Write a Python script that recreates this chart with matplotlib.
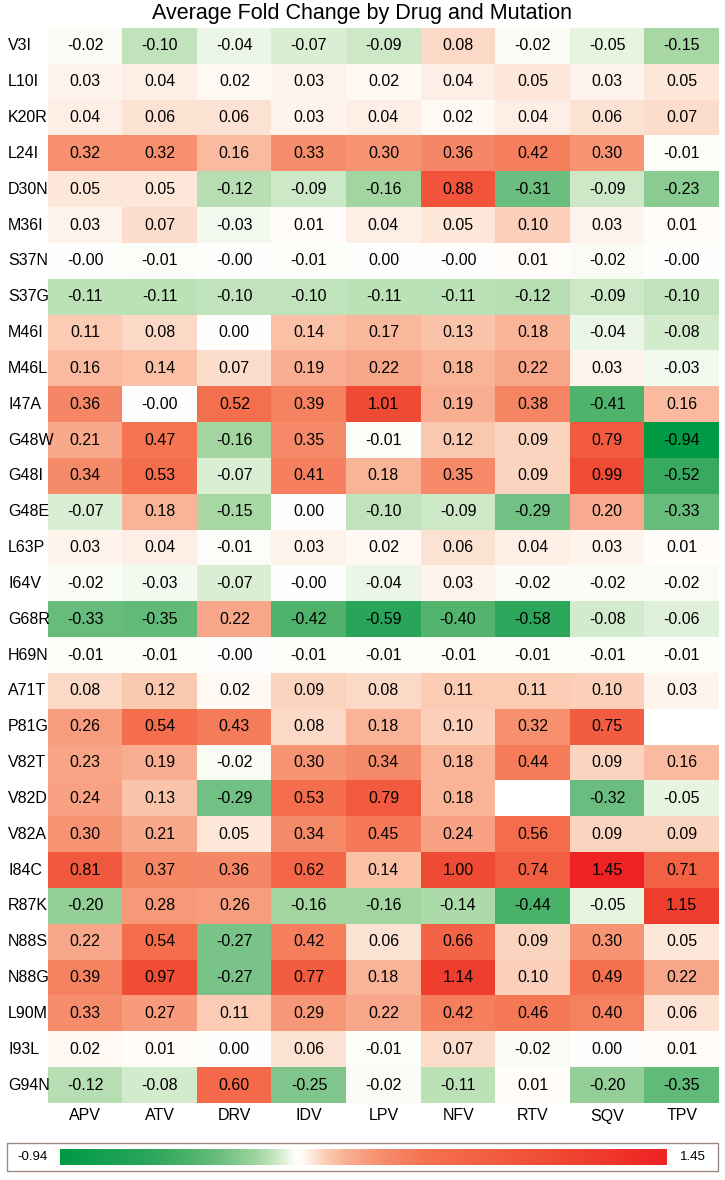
"""Average fold change heatmap (drug x mutation)."""
import matplotlib
matplotlib.use("Agg")
import matplotlib.pyplot as plt
import numpy as np
from matplotlib.colors import LinearSegmentedColormap, Normalize
from matplotlib.patches import Rectangle

plt.rcParams["font.family"] = ["Liberation Sans", "DejaVu Sans"]

drugs = ["APV", "ATV", "DRV", "IDV", "LPV", "NFV", "RTV", "SQV", "TPV"]
mutations = [
    "V3I", "L10I", "K20R", "L24I", "D30N", "M36I", "S37N", "S37G", "M46I", "M46L",
    "I47A", "G48W", "G48I", "G48E", "L63P", "I64V", "G68R", "H69N", "A71T", "P81G",
    "V82T", "V82D", "V82A", "I84C", "R87K", "N88S", "N88G", "L90M", "I93L", "G94N",
]
nan = np.nan
fold_change = [
    [-0.02, -0.10, -0.04, -0.07, -0.09, 0.08, -0.02, -0.05, -0.15],
    [0.03, 0.04, 0.02, 0.03, 0.02, 0.04, 0.05, 0.03, 0.05],
    [0.04, 0.06, 0.06, 0.03, 0.04, 0.02, 0.04, 0.06, 0.07],
    [0.32, 0.32, 0.16, 0.33, 0.30, 0.36, 0.42, 0.30, -0.01],
    [0.05, 0.05, -0.12, -0.09, -0.16, 0.88, -0.31, -0.09, -0.23],
    [0.03, 0.07, -0.03, 0.01, 0.04, 0.05, 0.10, 0.03, 0.01],
    [-0.0, -0.01, -0.0, -0.01, 0.00, -0.0, 0.01, -0.02, -0.0],
    [-0.11, -0.11, -0.10, -0.10, -0.11, -0.11, -0.12, -0.09, -0.10],
    [0.11, 0.08, 0.00, 0.14, 0.17, 0.13, 0.18, -0.04, -0.08],
    [0.16, 0.14, 0.07, 0.19, 0.22, 0.18, 0.22, 0.03, -0.03],
    [0.36, -0.0, 0.52, 0.39, 1.01, 0.19, 0.38, -0.41, 0.16],
    [0.21, 0.47, -0.16, 0.35, -0.01, 0.12, 0.09, 0.79, -0.94],
    [0.34, 0.53, -0.07, 0.41, 0.18, 0.35, 0.09, 0.99, -0.52],
    [-0.07, 0.18, -0.15, 0.00, -0.10, -0.09, -0.29, 0.20, -0.33],
    [0.03, 0.04, -0.01, 0.03, 0.02, 0.06, 0.04, 0.03, 0.01],
    [-0.02, -0.03, -0.07, -0.0, -0.04, 0.03, -0.02, -0.02, -0.02],
    [-0.33, -0.35, 0.22, -0.42, -0.59, -0.40, -0.58, -0.08, -0.06],
    [-0.01, -0.01, -0.0, -0.01, -0.01, -0.01, -0.01, -0.01, -0.01],
    [0.08, 0.12, 0.02, 0.09, 0.08, 0.11, 0.11, 0.10, 0.03],
    [0.26, 0.54, 0.43, 0.08, 0.18, 0.10, 0.32, 0.75, nan],
    [0.23, 0.19, -0.02, 0.30, 0.34, 0.18, 0.44, 0.09, 0.16],
    [0.24, 0.13, -0.29, 0.53, 0.79, 0.18, nan, -0.32, -0.05],
    [0.30, 0.21, 0.05, 0.34, 0.45, 0.24, 0.56, 0.09, 0.09],
    [0.81, 0.37, 0.36, 0.62, 0.14, 1.00, 0.74, 1.45, 0.71],
    [-0.20, 0.28, 0.26, -0.16, -0.16, -0.14, -0.44, -0.05, 1.15],
    [0.22, 0.54, -0.27, 0.42, 0.06, 0.66, 0.09, 0.30, 0.05],
    [0.39, 0.97, -0.27, 0.77, 0.18, 1.14, 0.10, 0.49, 0.22],
    [0.33, 0.27, 0.11, 0.29, 0.22, 0.42, 0.46, 0.40, 0.06],
    [0.02, 0.01, 0.00, 0.06, -0.01, 0.07, -0.02, 0.00, 0.01],
    [-0.12, -0.08, 0.60, -0.25, -0.02, -0.11, 0.01, -0.20, -0.35],
]

VMIN, VMAX = -0.94, 1.45

# colour stops in data units (green - white - red)
stops = [
    (-0.94, "#009a44"), (-0.59, "#2aa65a"), (-0.42, "#4fb36b"), (-0.30, "#70c083"),
    (-0.16, "#a3d6a0"), (-0.10, "#c4e5bf"), (-0.05, "#e6f4e0"), (-0.02, "#f9fdf6"),
    (0.0, "#ffffff"),
    (0.02, "#fff7f0"), (0.06, "#fde4d5"), (0.11, "#fbcbb3"), (0.20, "#f9ac8f"),
    (0.33, "#f68d6c"), (0.50, "#f5714f"), (1.00, "#f04b34"), (1.45, "#ee2222"),
]
cmap = LinearSegmentedColormap.from_list(
    "fc", [((v - VMIN) / (VMAX - VMIN), c) for v, c in stops])
cmap.set_bad("white")
norm = Normalize(VMIN, VMAX)

data = np.array(fold_change, dtype=float)
nrow, ncol = data.shape

W, H = 725, 1180
fig = plt.figure(figsize=(W / 100, H / 100), dpi=100)
fig.patch.set_facecolor("white")


def fx(px):
    return px / W


def fy(py):
    return 1 - py / H


ax = fig.add_axes([fx(48), fy(1103), fx(719 - 48), (1103 - 28) / H])
ax.imshow(np.ma.masked_invalid(data), cmap=cmap, norm=norm, aspect="auto",
          interpolation="nearest", extent=[0, ncol, nrow, 0])
for i in range(nrow):
    for j in range(ncol):
        v = data[i, j]
        if np.isnan(v):
            continue
        ax.text(j + 0.5, i + 0.5, f"{v:.2f}", ha="center", va="center",
                fontsize=11.5, color="black")
ax.set_xlim(0, ncol)
ax.set_ylim(nrow, 0)
ax.set_axis_off()

for i, m in enumerate(mutations):
    fig.text(fx(8), fy(46 + i * 35.83), m, ha="left", va="center", fontsize=11.5)
for j, d in enumerate(drugs):
    fig.text(fx(48 + (j + 0.5) * 74.6), fy(1116), d, ha="center", va="center",
             fontsize=11.5)

fig.text(0.5, fy(14), "Average Fold Change by Drug and Mutation",
         ha="center", va="center", fontsize=15.5)

# colour bar in a framed box
box = Rectangle((fx(7), fy(1171)), fx(718 - 7), (1171 - 1143) / H,
                transform=fig.transFigure, facecolor="white",
                edgecolor="#9c8a80", linewidth=1.0, zorder=-1)
fig.patches.append(box)
cax = fig.add_axes([fx(60), fy(1165), fx(666 - 60), (1165 - 1149) / H])
cax.set_zorder(2)
grad = np.linspace(VMIN, VMAX, 512)[None, :]
cax.imshow(grad, cmap=cmap, norm=norm, aspect="auto",
           extent=[VMIN, VMAX, 0, 1])
cax.set_axis_off()
fig.text(fx(33), fy(1157), f"{VMIN:.2f}", ha="center", va="center", fontsize=9.5)
fig.text(fx(693), fy(1157), f"{VMAX:.2f}", ha="center", va="center", fontsize=9.5)

fig.savefig("out.png", dpi=100)
